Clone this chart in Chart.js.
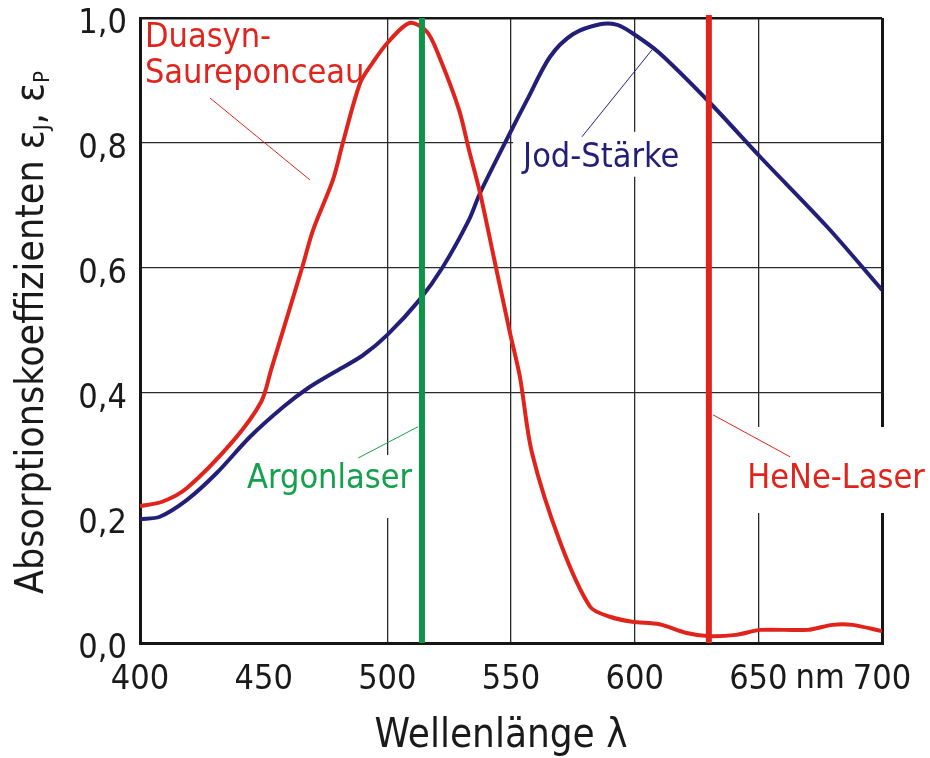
<!DOCTYPE html>
<html>
<head>
<meta charset="utf-8">
<script src="https://cdn.jsdelivr.net/npm/chart.js@4.4.0/dist/chart.umd.min.js"></script>
<style>
  body { margin: 0; background: #fff; }
  #wrap { width: 930px; height: 758px; }
</style>
</head>
<body>
<div id="wrap"><canvas id="myChart" width="930" height="758"></canvas></div>
<script>
// wavelengths (nm) and absorption values
const duasynNm  = [400, 409, 419, 437.6, 449, 453, 465.5, 470, 478, 482, 489, 494, 500, 509, 516, 521, 529, 533, 537.5, 543, 549.6, 553.6, 558.5, 570, 582, 590, 599, 610, 621, 630, 641, 651, 670, 680, 688, 700];
const duasynVal = [0.219, 0.226, 0.248, 0.323, 0.386, 0.437, 0.600, 0.661, 0.741, 0.800, 0.896, 0.928, 0.960, 0.992, 0.978, 0.938, 0.853, 0.789, 0.720, 0.618, 0.496, 0.426, 0.304, 0.160, 0.058, 0.042, 0.034, 0.030, 0.016, 0.011, 0.013, 0.021, 0.021, 0.029, 0.029, 0.019];

const jodNm  = [400, 408, 419, 431, 444.5, 458, 468, 478, 490, 500, 513, 522.5, 533, 537.5, 549.6, 556.5, 565.8, 575, 586, 593, 599, 610, 630.5, 650.7, 677.8, 700];
const jodVal = [0.198, 0.202, 0.229, 0.272, 0.330, 0.378, 0.408, 0.432, 0.460, 0.493, 0.549, 0.602, 0.677, 0.720, 0.816, 0.869, 0.938, 0.974, 0.990, 0.989, 0.976, 0.944, 0.864, 0.778, 0.666, 0.565];

const argonNm = 514;
const heneNm = 630;

const xTicks = [400, 450, 500, 550, 600, 650, 700];
const yTicks = [0, 0.2, 0.4, 0.6, 0.8, 1.0];

const RED = '#e0241c';
const BLUE = '#231f78';
const GREEN = '#0f9548';
const LABEL_FONT = '"DejaVu Sans Condensed", "DejaVu Sans", sans-serif';

// annotation texts, anchored in data units (nm, value)
const notes = [
  { lines: ['Duasyn-', 'Saureponceau'], nm: 402, val: [0.954, 0.896], color: RED, box: null,
    leader: [428.3, 0.872, 468.7, 0.741] },
  { lines: ['Jod-Stärke'], nm: 554.9, val: [0.762], color: BLUE, box: [10, 30, 10, 10],
    leader: [578.7, 0.810, 607.0, 0.949] },
  { lines: ['Argonlaser'], nm: 443.3, val: [0.248], color: '#14a04c', box: [8, 4, 8, 30],
    leader: [488.2, 0.296, 512.4, 0.346] },
  { lines: ['HeNe-Laser'], nm: 645.5, val: [0.248], color: RED, box: [16, 10, 36, 25],
    leader: [631.7, 0.365, 662.8, 0.298] }
];

const notesPlugin = {
  id: 'notes',
  beforeDatasetsDraw(chart) {
    const ctx = chart.ctx, xs = chart.scales.x, ys = chart.scales.y;
    ctx.save();
    ctx.font = '34px ' + LABEL_FONT;
    ctx.textBaseline = 'alphabetic';
    ctx.textAlign = 'left';
    notes.forEach(n => {
      const px = xs.getPixelForValue(n.nm);
      if (n.box) {
        const w = Math.max(...n.lines.map(t => ctx.measureText(t).width));
        const top = ys.getPixelForValue(n.val[0]) - 25;
        const bot = ys.getPixelForValue(n.val[n.val.length - 1]);
        ctx.fillStyle = '#fff';
        ctx.fillRect(px - n.box[0], top - n.box[2], w + n.box[0] + n.box[1], bot - top + n.box[2] + n.box[3]);
      }
      ctx.fillStyle = n.color;
      n.lines.forEach((t, i) => ctx.fillText(t, px, ys.getPixelForValue(n.val[i])));
      ctx.strokeStyle = n.color;
      ctx.lineWidth = 1;
      ctx.beginPath();
      ctx.moveTo(xs.getPixelForValue(n.leader[0]), ys.getPixelForValue(n.leader[1]));
      ctx.lineTo(xs.getPixelForValue(n.leader[2]), ys.getPixelForValue(n.leader[3]));
      ctx.stroke();
    });
    ctx.restore();
  },
  afterDraw(chart) {
    const ctx = chart.ctx, xs = chart.scales.x;
    ctx.save();
    ctx.fillStyle = '#1a1a1a';
    // unit next to the 650 tick
    ctx.font = '34px ' + LABEL_FONT;
    ctx.textAlign = 'center';
    ctx.textBaseline = 'alphabetic';
    ctx.fillText('nm', xs.getPixelForValue(675), 688);
    // x title
    ctx.font = '40px ' + LABEL_FONT;
    ctx.fillText('Wellenlänge λ', 501, 747);
    // y title with subscripts
    ctx.translate(43, 594);
    ctx.rotate(-Math.PI / 2);
    ctx.textAlign = 'left';
    let cx = 0;
    const parts = [['Absorptionskoeffizienten ε', 39, 0], ['J', 22, 6], [', ε', 39, 0], ['P', 22, 6]];
    parts.forEach(p => {
      ctx.font = p[1] + 'px ' + LABEL_FONT;
      ctx.fillText(p[0], cx, p[2]);
      cx += ctx.measureText(p[0]).width;
    });
    ctx.restore();
  }
};

const data = {
  datasets: [{
    label: 'Argonlaser',
    data: [{ x: argonNm, y: 0 }, { x: argonNm, y: 1 }],
    borderColor: GREEN,
    borderWidth: 6,
    clip: false
  }, {
    label: 'HeNe-Laser',
    data: [{ x: heneNm, y: 0 }, { x: heneNm, y: 1.005 }],
    borderColor: RED,
    borderWidth: 6,
    clip: false
  }, {
    label: 'Duasyn-Saureponceau',
    data: duasynNm.map((x, i) => ({ x: x, y: duasynVal[i] })),
    borderColor: RED,
    borderWidth: 4,
    tension: 0.3
  }, {
    label: 'Jod-Stärke',
    data: jodNm.map((x, i) => ({ x: x, y: jodVal[i] })),
    borderColor: BLUE,
    borderWidth: 4,
    tension: 0.3
  }]
};

const tickFont = { family: LABEL_FONT, size: 34, lineHeight: 1.0 };

const config = {
  type: 'line',
  data: data,
  options: {
    responsive: false,
    animation: false,
    layout: { padding: { top: 18, right: 48, left: 0, bottom: 0 } },
    elements: { point: { radius: 0 } },
    plugins: { legend: { display: false }, tooltip: { enabled: false } },
    scales: {
      x: {
        type: 'linear',
        min: 400,
        max: 700,
        afterBuildTicks: s => { s.ticks = xTicks.map(v => ({ value: v })); },
        afterFit: s => { s.height = 115; s.paddingLeft = 0; s.paddingRight = 0; },
        ticks: { color: '#1a1a1a', font: tickFont, padding: 20, maxRotation: 0 },
        grid: {
          drawTicks: false,
          color: c => (c.tick && c.tick.value === 450) ? 'rgba(0,0,0,0)' : (c.tick && (c.tick.value === 400 || c.tick.value === 700) ? '#161616' : '#2a2a2a'),
          lineWidth: c => (c.tick && (c.tick.value === 400 || c.tick.value === 700)) ? 3 : 1.3
        },
        border: { color: '#161616', width: 3 }
      },
      y: {
        min: 0,
        max: 1,
        afterBuildTicks: s => { s.ticks = yTicks.map(v => ({ value: v })); },
        afterFit: s => { s.width = 140; s.paddingTop = 0; s.paddingBottom = 0; },
        ticks: {
          color: '#1a1a1a', font: tickFont, padding: 13, labelOffset: 6,
          callback: v => v.toFixed(1).replace('.', ',')
        },
        grid: {
          drawTicks: false,
          color: c => (c.tick && Math.abs(c.tick.value - 0.2) < 1e-6) ? 'rgba(0,0,0,0)' : (c.tick && c.tick.value >= 0.99 ? '#161616' : '#2a2a2a'),
          lineWidth: c => (c.tick && c.tick.value >= 0.99) ? 2.5 : 1.3
        },
        border: { color: '#161616', width: 3 }
      }
    }
  },
  plugins: [notesPlugin]
};

const myChart = new Chart(document.getElementById('myChart'), config);
</script>
</body>
</html>
